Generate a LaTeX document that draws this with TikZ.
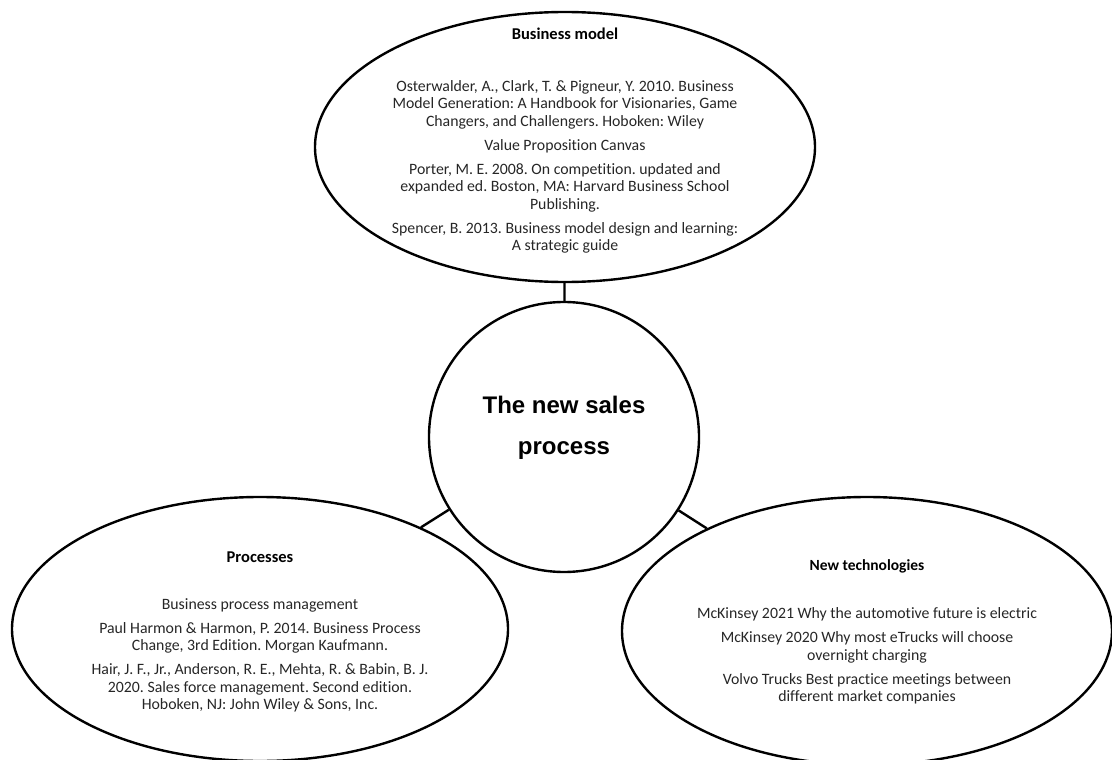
\documentclass[tikz,border=0pt]{standalone}
\usepackage{fontspec}
\setmainfont{Carlito}[Ligatures=NoCommon]
\newfontfamily\hubfont{Liberation Sans}
\usetikzlibrary{shapes.geometric}
\frenchspacing

\begin{document}
\begin{tikzpicture}[x=1pt,y=-1pt,
  bubble/.style={draw=black, line width=2.4pt, ellipse, inner sep=0pt},
  hub/.style={draw=black, line width=2.4pt, circle, inner sep=0pt, minimum size=270pt},
  reftext/.style={align=center, inner sep=0pt, text=black!85,
    font=\fontsize{15.8}{17.5}\selectfont},
  link/.style={draw=black, line width=2.4pt}]
\useasboundingbox (0,0) rectangle (1112,760);

% central topic and the three surrounding themes
\node[hub] (core) at (564,437) {};
\node[bubble, minimum width=500pt, minimum height=270pt] (model) at (565,147) {};
\node[bubble, minimum width=496pt, minimum height=264pt] (proc) at (260,629) {};
\node[bubble, minimum width=490pt, minimum height=268pt] (tech) at (867,631) {};

% connectors between the hub and the themes
\draw[link] (core) -- (model);
\draw[link] (core) -- (proc);
\draw[link] (core) -- (tech);

% hub title
\node[align=center, inner sep=0pt, font=\hubfont\bfseries\fontsize{24}{41}\selectfont]
  (coretext) at (564,428) {The new sales\\process};

% reference lists
\node[reftext] (modeltext) at (565,141) {%
  {\color{black}\textbf{\fontsize{16.5}{17.5}\selectfont Business model}}\\[34pt]
  Osterwalder, A., Clark, T. \& Pigneur, Y. 2010. Business\\
  Model Generation: A Handbook for Visionaries, Game\\
  Changers, and Challengers. Hoboken: Wiley\\[6.5pt]
  Value Proposition Canvas\\[6.5pt]
  Porter, M. E. 2008. On competition. updated and\\
  expanded ed. Boston, MA: Harvard Business School\\
  Publishing.\\[6.5pt]
  Spencer, B. 2013. Business model design and learning:\\
  A strategic guide};

\node[reftext] (proctext) at (260,632) {%
  {\color{black}\textbf{\fontsize{16.5}{17.5}\selectfont Processes}}\\[29.5pt]
  Business process management\\[6.5pt]
  Paul Harmon \& Harmon, P. 2014. Business Process\\
  Change, 3rd Edition. Morgan Kaufmann.\\[6.5pt]
  Hair, J. F., Jr., Anderson, R. E., Mehta, R. \& Babin, B. J.\\
  2020. Sales force management. Second edition.\\
  Hoboken, NJ: John Wiley \& Sons, Inc.};

\node[reftext] (techtext) at (867,632) {%
  {\color{black}\textbf{\fontsize{15.5}{17.5}\selectfont New technologies}}\\[30.5pt]
  McKinsey 2021 Why the automotive future is electric\\[6.5pt]
  McKinsey 2020 Why most eTrucks will choose\\
  overnight charging\\[6.5pt]
  Volvo Trucks Best practice meetings between\\
  different market companies};
\end{tikzpicture}
\end{document}
